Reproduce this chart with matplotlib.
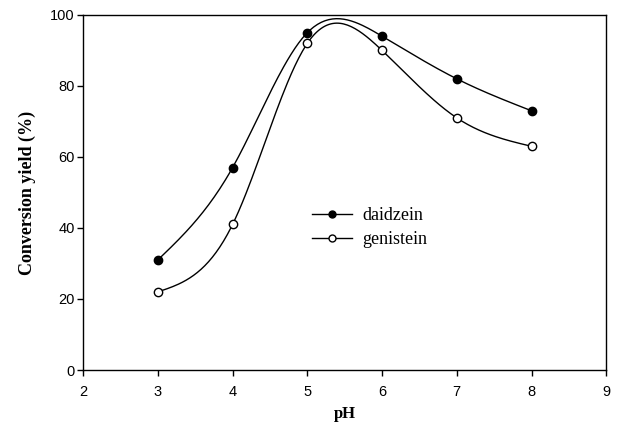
import numpy as np
import matplotlib.pyplot as plt

# pH values and conversion yields (%)
ph = [3, 4, 5, 6, 7, 8]
daidzein = [31, 57, 95, 94, 82, 73]
genistein = [22, 41, 92, 90, 71, 63]


def natural_spline(x, y, n=200):
    """Smooth curve through points (natural cubic spline), like SigmaPlot's spline line."""
    x = np.asarray(x, float)
    y = np.asarray(y, float)
    k = len(x)
    h = np.diff(x)
    A = np.zeros((k, k))
    b = np.zeros(k)
    A[0, 0] = A[-1, -1] = 1.0
    for i in range(1, k - 1):
        A[i, i - 1] = h[i - 1]
        A[i, i] = 2 * (h[i - 1] + h[i])
        A[i, i + 1] = h[i]
        b[i] = 3 * ((y[i + 1] - y[i]) / h[i] - (y[i] - y[i - 1]) / h[i - 1])
    c = np.linalg.solve(A, b)
    xs = np.linspace(x[0], x[-1], n)
    idx = np.clip(np.searchsorted(x, xs) - 1, 0, k - 2)
    dx = xs - x[idx]
    hi = h[idx]
    bb = (y[idx + 1] - y[idx]) / hi - hi * (2 * c[idx] + c[idx + 1]) / 3
    dd = (c[idx + 1] - c[idx]) / (3 * hi)
    ys = y[idx] + bb * dx + c[idx] * dx ** 2 + dd * dx ** 3
    return xs, ys


fig = plt.figure(figsize=(6.25, 4.32), dpi=100)
ax = fig.add_axes([0.133, 0.1435, 0.837, 0.822])

for vals, face, lab in [(daidzein, 'black', 'daidzein'), (genistein, 'white', 'genistein')]:
    xs, ys = natural_spline(ph, vals)
    ax.plot(xs, ys, color='black', lw=1.0, zorder=2)
    ax.plot(ph, vals, 'o', mfc=face, mec='black', ms=6, mew=1.0, zorder=3)
    ax.plot([], [], '-o', color='black', mfc=face, mec='black', ms=5, lw=1.0, label=lab)

ax.set_xlim(2, 9)
ax.set_ylim(0, 100)
ax.set_xticks(range(2, 10))
ax.set_yticks(range(0, 101, 20))
ax.tick_params(direction='out', length=4, width=1, labelsize=10.5, top=False, right=False)
ax.tick_params(axis='x', pad=7)
ax.tick_params(axis='y', pad=2)
for lbl in ax.get_xticklabels() + ax.get_yticklabels():
    lbl.set_fontfamily('Liberation Sans')
for s in ax.spines.values():
    s.set_linewidth(1.0)

ax.set_xlabel('pH', fontfamily='Liberation Serif', fontweight='bold', fontsize=12, labelpad=5)
ax.set_ylabel('Conversion yield (%)', fontfamily='Liberation Serif', fontweight='bold',
              fontsize=13, labelpad=10)

ax.legend(loc='upper left', bbox_to_anchor=(0.413, 0.494), frameon=False,
          prop={'family': 'Liberation Serif', 'size': 13}, handlelength=2.2,
          handletextpad=0.6, labelspacing=0.4, borderpad=0.2)

plt.savefig('out.png', dpi=100)
plt.close()
